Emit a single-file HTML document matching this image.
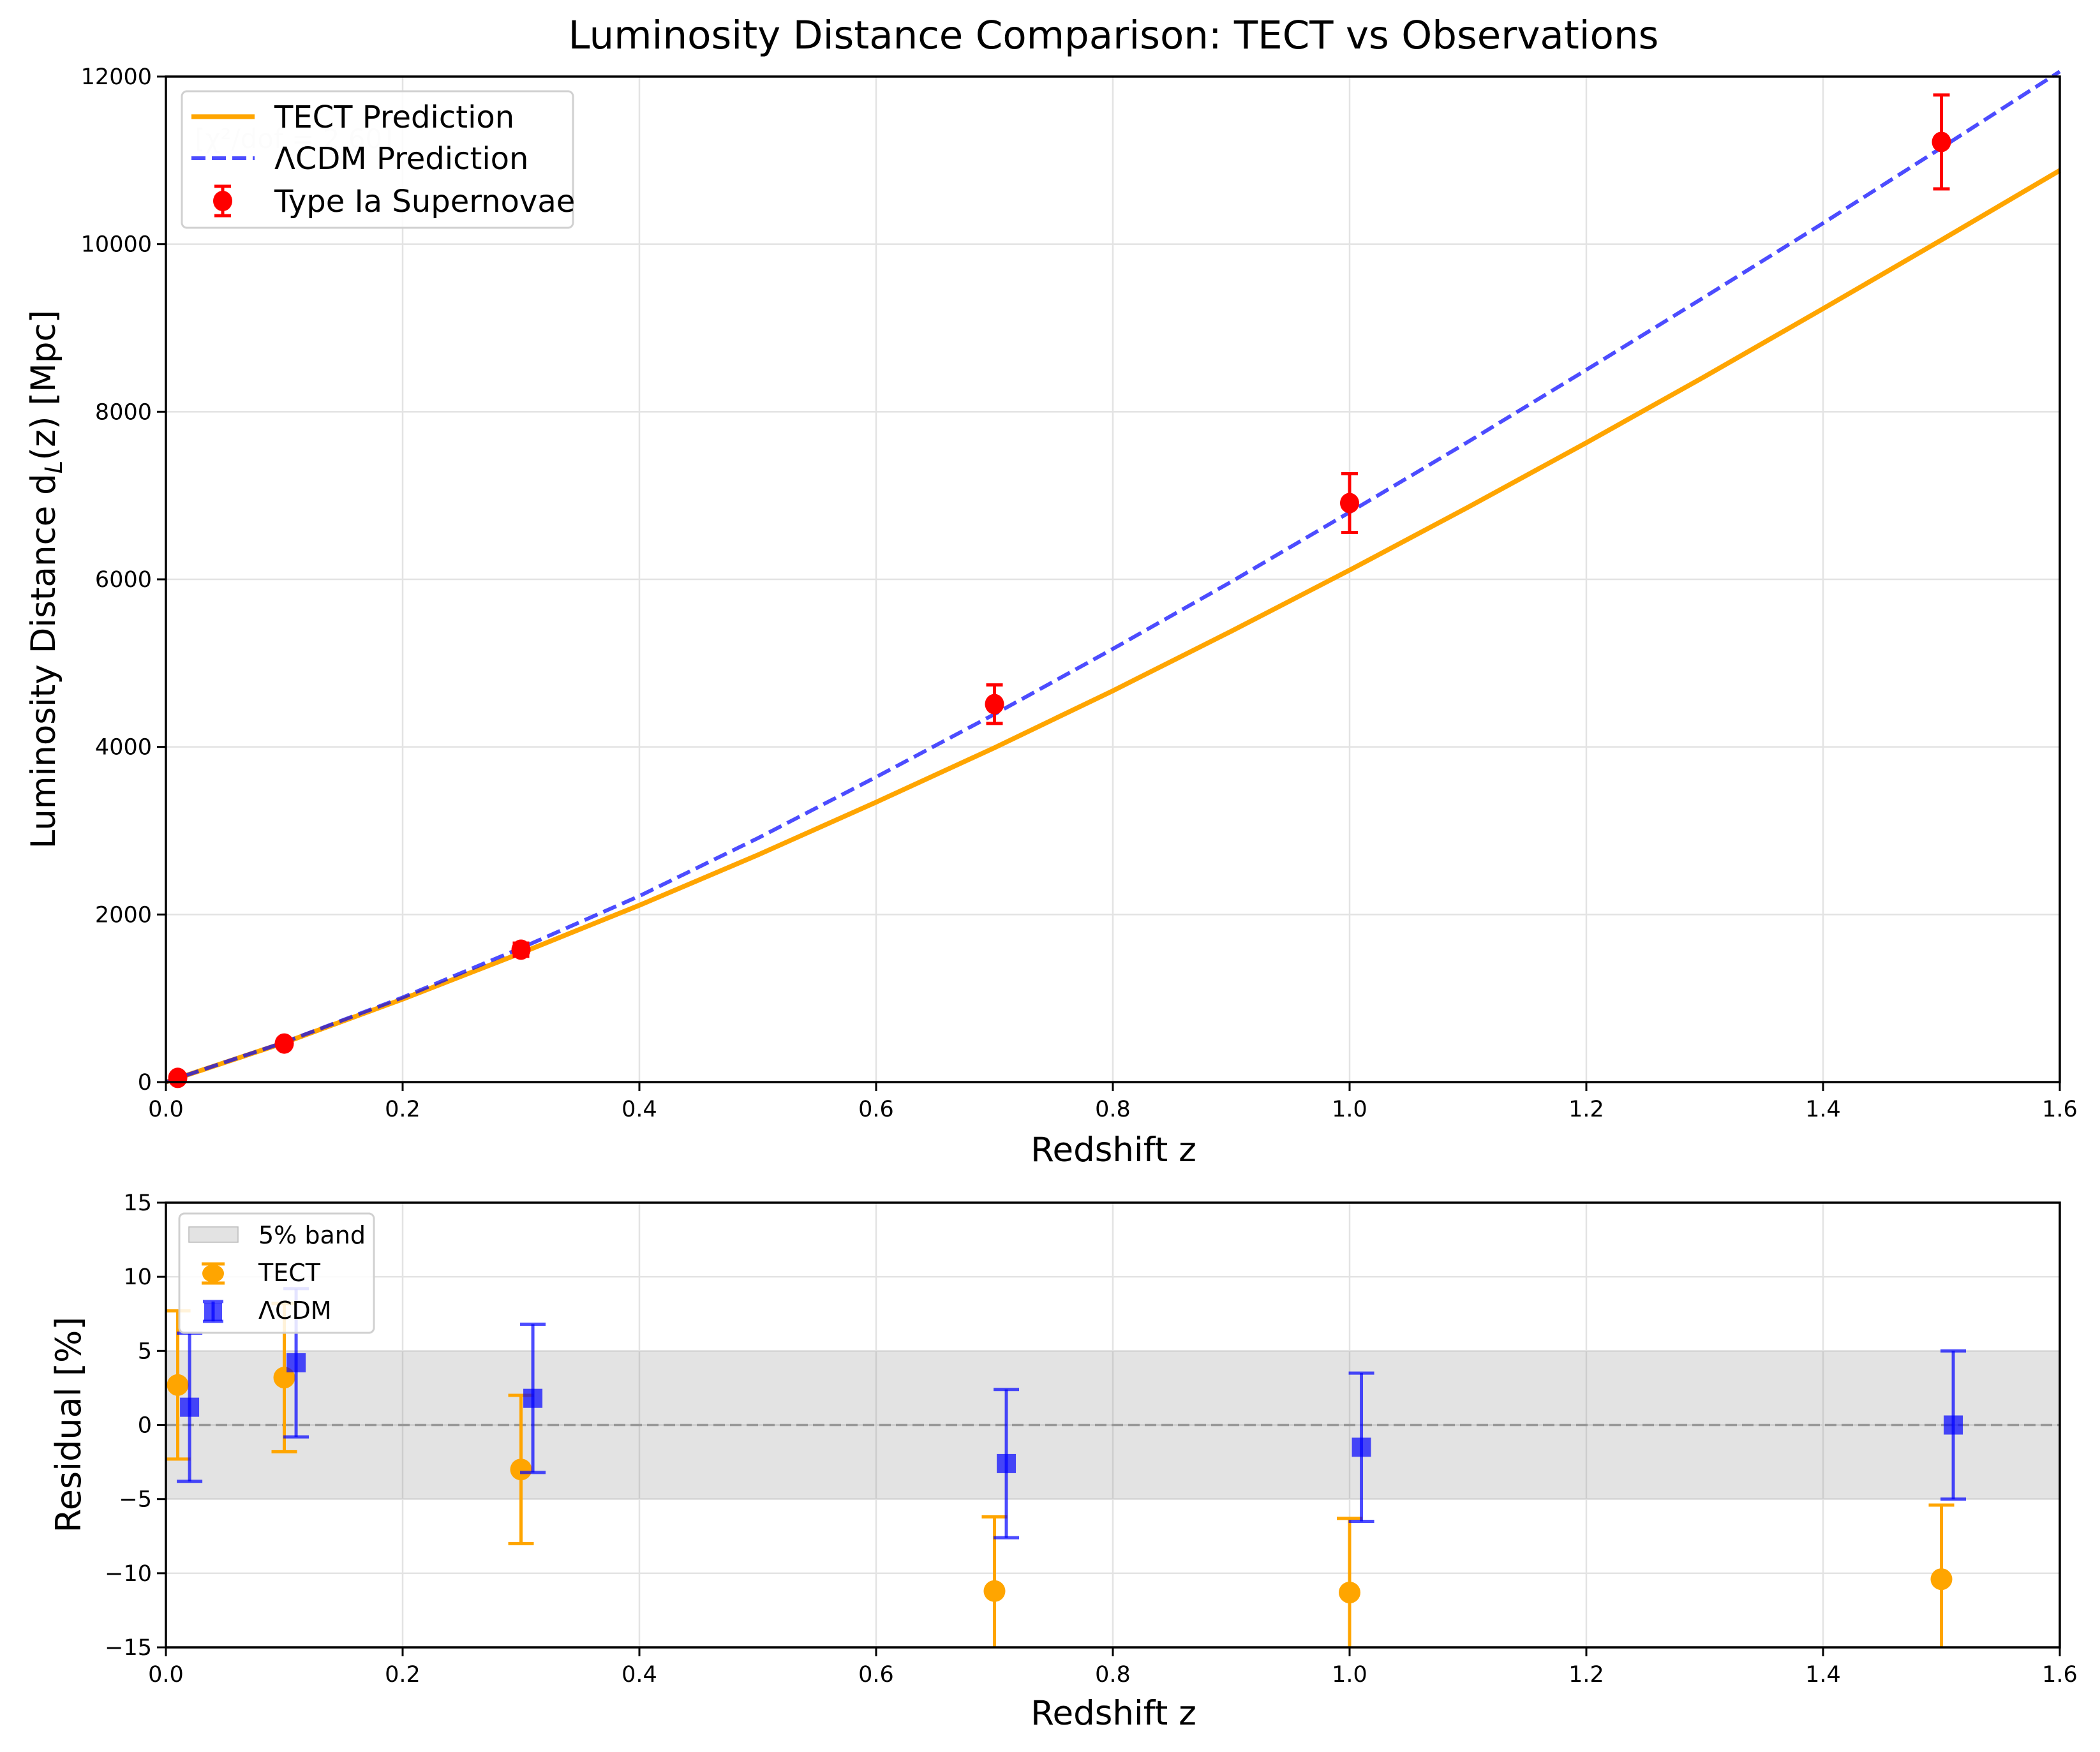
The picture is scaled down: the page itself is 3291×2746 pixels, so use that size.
<!DOCTYPE html>
<html><head><meta charset="utf-8"><style>
html,body{margin:0;padding:0;background:#fff;}
svg{display:block;font-family:"DejaVu Sans","Liberation Sans",sans-serif;}
</style></head><body>
<svg id="fig" width="3291" height="2746" viewBox="0 0 3291 2746" xmlns="http://www.w3.org/2000/svg">
<rect width="3291" height="2746" fill="#fff"/>
<text x="1745" y="76" font-size="61" text-anchor="middle">Luminosity Distance Comparison: TECT vs Observations</text>
<g id="topPanel"></g>
<g id="botPanel"></g>
</svg>
<script>
// ---- data: top panel ----
const curveZ = [0,0.1,0.2,0.3,0.4,0.5,0.6,0.7,0.8,0.9,1.0,1.1,1.2,1.3,1.4,1.5,1.6];
const tectDL = [0,470,990,1540,2110,2710,3340,3990,4670,5380,6110,6860,7630,8420,9230,10050,10880];
const lcdmDL = [0,475,1010,1600,2220,2910,3640,4390,5170,5970,6800,7640,8500,9370,10250,11150,12060];
const snZ = [0.01,0.1,0.3,0.7,1.0,1.5];
const snDL = [50,460,1580,4510,6910,11220];
const snErr = [2.5,23,79,230,350,560];
const xTicks = [0,0.2,0.4,0.6,0.8,1.0,1.2,1.4,1.6];
const xTickLabels = ["0.0","0.2","0.4","0.6","0.8","1.0","1.2","1.4","1.6"];
const yTicksTop = [0,2000,4000,6000,8000,10000,12000];
// ---- data: residual panel ----
const resZ = [0.01,0.1,0.3,0.7,1.0,1.5];
const tectRes = [2.7,3.2,-3.0,-11.2,-11.3,-10.4];
const tectResErr = [5,5,5,5,5,5];
const lcdmRes = [1.2,4.2,1.8,-2.6,-1.5,0.0];
const lcdmResErr = [5,5,5,5,5,5];
const yTicksBot = [-15,-10,-5,0,5,10,15];
const yTickLabelsBot = ["\u221215","\u221210","\u22125","0","5","10","15"];

const NS="http://www.w3.org/2000/svg";
function mk(parent,tag,attrs,text){const e=document.createElementNS(NS,tag);for(const k in attrs)e.setAttribute(k,attrs[k]);if(text!==undefined)e.textContent=text;parent.appendChild(e);return e;}

const L=260,R=3228;
const xs=z=>L+(R-L)*z/1.6;
const T1=120,B1=1696; const y1=v=>B1-(B1-T1)*v/12000;
const T2=1885,B2=2582; const y2=v=>B2-(B2-T2)*(v+15)/30;

const topG=document.getElementById('topPanel');
const botG=document.getElementById('botPanel');

function axesFrame(g,T,B,yt,yfn,namePrefix){
  xTicks.forEach((t)=>{const l=mk(g,'line',{x1:xs(t),x2:xs(t),y1:T,y2:B,stroke:'#e3e3e3','stroke-width':2.5});
    
    });
  yt.forEach((t)=>{const l=mk(g,'line',{x1:L,x2:R,y1:yfn(t),y2:yfn(t),stroke:'#e3e3e3','stroke-width':2.5});
    
    });
}
function axesTicks(g,T,B,yt,yfn,ylabels,namePrefix){
  const fr=mk(g,'rect',{x:L,y:T,width:R-L,height:B-T,fill:'none',stroke:'#000','stroke-width':3.5});
  
  
  xTicks.forEach((t,i)=>{mk(g,'line',{x1:xs(t),x2:xs(t),y1:B,y2:B+14,stroke:'#000','stroke-width':3});
    const tx=mk(g,'text',{x:xs(t),y:B+54,'font-size':35,'text-anchor':'middle'},xTickLabels[i]);
    
    });
  yt.forEach((t,i)=>{mk(g,'line',{x1:L-14,x2:L,y1:yfn(t),y2:yfn(t),stroke:'#000','stroke-width':3});
    const tx=mk(g,'text',{x:L-22,y:yfn(t)+12,'font-size':35,'text-anchor':'end'},ylabels[i]);
    
    });
}
function pathFrom(xsArr,ysArr,yfn){return xsArr.map((z,i)=>(i?'L':'M')+xs(z).toFixed(1)+','+yfn(ysArr[i]).toFixed(1)).join(' ');}
function errbar(g,x,yv,e,yfn,color,cap,w,yMin,name){
  const lo=Math.max(yv-e,yMin);
  const l=mk(g,'line',{x1:x,x2:x,y1:yfn(yv+e),y2:yfn(lo),stroke:color,'stroke-width':w});
  
  
  mk(g,'line',{x1:x-cap,x2:x+cap,y1:yfn(yv+e),y2:yfn(yv+e),stroke:color,'stroke-width':w});
  if(yv-e>=yMin) mk(g,'line',{x1:x-cap,x2:x+cap,y1:yfn(yv-e),y2:yfn(yv-e),stroke:color,'stroke-width':w});
}

// ---- top panel ----
axesFrame(topG,T1,B1,yTicksTop,y1,'top');
const tp=mk(topG,'path',{d:pathFrom(curveZ,tectDL,y1),fill:'none',stroke:'#FFA500','stroke-width':7.5});


const lp=mk(topG,'path',{d:pathFrom(curveZ,lcdmDL,y1),fill:'none',stroke:'rgba(0,0,255,0.7)','stroke-width':6,'stroke-dasharray':'22 10'});


snZ.forEach((z,i)=>{
  errbar(topG,xs(z),snDL[i],snErr[i],y1,'#ff0000',13,5,-1e9,'supernova');
  const c=mk(topG,'ellipse',{cx:xs(z),cy:y1(snDL[i]),rx:15,ry:16,fill:'#ff0000'});
  
  
});
axesTicks(topG,T1,B1,yTicksTop,y1,yTicksTop.map(String),'top');
const xl1=mk(topG,'text',{x:1745,y:1820,'font-size':53,'text-anchor':'middle'},'Redshift z');


const yl1=mk(topG,'text',{x:0,y:0,'font-size':53,'text-anchor':'middle',transform:'translate(86,908) rotate(-90)'});


yl1.innerHTML='Luminosity Distance d<tspan font-size="37" dy="11" font-style="italic">L</tspan><tspan dy="-11">(z) [Mpc]</tspan>';
const fa=mk(topG,'text',{x:305,y:232,'font-size':42,fill:'#000','fill-opacity':0.08},'[χ²/dof = 2.60]');


const lg=mk(topG,'g',{});


mk(lg,'rect',{x:285,y:143,width:613,height:214,rx:8,fill:'#fff','fill-opacity':0.85,stroke:'#d0d0d0','stroke-width':3});
mk(lg,'line',{x1:300,x2:399,y1:183,y2:183,stroke:'#FFA500','stroke-width':7.5});
mk(lg,'text',{x:430,y:200,'font-size':48},'TECT Prediction');
mk(lg,'line',{x1:300,x2:399,y1:248,y2:248,stroke:'rgba(0,0,255,0.7)','stroke-width':6,'stroke-dasharray':'22 10'});
mk(lg,'text',{x:430,y:265,'font-size':48},'ΛCDM Prediction');
mk(lg,'line',{x1:349,x2:349,y1:292,y2:338,stroke:'#f00','stroke-width':5});
mk(lg,'line',{x1:336,x2:362,y1:292,y2:292,stroke:'#f00','stroke-width':5});
mk(lg,'line',{x1:336,x2:362,y1:338,y2:338,stroke:'#f00','stroke-width':5});
mk(lg,'ellipse',{cx:349,cy:315,rx:15,ry:16,fill:'#f00'});
mk(lg,'text',{x:430,y:332,'font-size':48},'Type Ia Supernovae');

// ---- bottom panel ----
axesFrame(botG,T2,B2,yTicksBot,y2,'bottom');
const band=mk(botG,'rect',{x:L,y:y2(5),width:R-L,height:y2(-5)-y2(5),fill:'#808080','fill-opacity':0.22});


const zl=mk(botG,'line',{x1:L,x2:R,y1:y2(0),y2:y2(0),stroke:'#999','stroke-width':3.5,'stroke-dasharray':'18 8'});


resZ.forEach((z,i)=>{
  errbar(botG,xs(z),tectRes[i],tectResErr[i],y2,'#FFA500',20,5,-15,'tect-residual');
  const c=mk(botG,'ellipse',{cx:xs(z),cy:y2(tectRes[i]),rx:17,ry:17,fill:'#FFA500'});
  
  
});
resZ.forEach((z,i)=>{
  const x=xs(z+0.01);
  errbar(botG,x,lcdmRes[i],lcdmResErr[i],y2,'rgba(0,0,255,0.7)',20,5,-15,'lcdm-residual');
  const s=mk(botG,'rect',{x:x-15,y:y2(lcdmRes[i])-15,width:30,height:30,fill:'rgba(0,0,255,0.7)'});
  
  
});
axesTicks(botG,T2,B2,yTicksBot,y2,yTickLabelsBot,'bottom');
const xl2=mk(botG,'text',{x:1745,y:2703,'font-size':53,'text-anchor':'middle'},'Redshift z');


const yl2=mk(botG,'text',{x:0,y:0,'font-size':54,'text-anchor':'middle',transform:'translate(126,2233) rotate(-90)'},'Residual [%]');


const lg2=mk(botG,'g',{});


mk(lg2,'rect',{x:281,y:1902,width:305,height:187,rx:8,fill:'#fff','fill-opacity':0.85,stroke:'#d0d0d0','stroke-width':3});
mk(lg2,'rect',{x:296,y:1923,width:77,height:24,fill:'#808080','fill-opacity':0.22,stroke:'#bbb','stroke-width':1.5});
mk(lg2,'text',{x:405,y:1949,'font-size':38},'5% band');
mk(lg2,'line',{x1:334,x2:334,y1:1981,y2:2011,stroke:'#FFA500','stroke-width':5});
mk(lg2,'line',{x1:316,x2:352,y1:1981,y2:1981,stroke:'#FFA500','stroke-width':5});
mk(lg2,'line',{x1:316,x2:352,y1:2011,y2:2011,stroke:'#FFA500','stroke-width':5});
mk(lg2,'ellipse',{cx:334,cy:1996,rx:17,ry:14,fill:'#FFA500'});
mk(lg2,'text',{x:405,y:2008,'font-size':38},'TECT');
mk(lg2,'line',{x1:334,x2:334,y1:2040,y2:2071,stroke:'rgba(0,0,255,0.7)','stroke-width':5});
mk(lg2,'line',{x1:318,x2:350,y1:2040,y2:2040,stroke:'rgba(0,0,255,0.7)','stroke-width':5});
mk(lg2,'line',{x1:318,x2:350,y1:2071,y2:2071,stroke:'rgba(0,0,255,0.7)','stroke-width':5});
mk(lg2,'rect',{x:320,y:2042,width:28,height:28,fill:'rgba(0,0,255,0.7)'});
mk(lg2,'text',{x:405,y:2067,'font-size':38},'ΛCDM');
</script>
</body></html>
